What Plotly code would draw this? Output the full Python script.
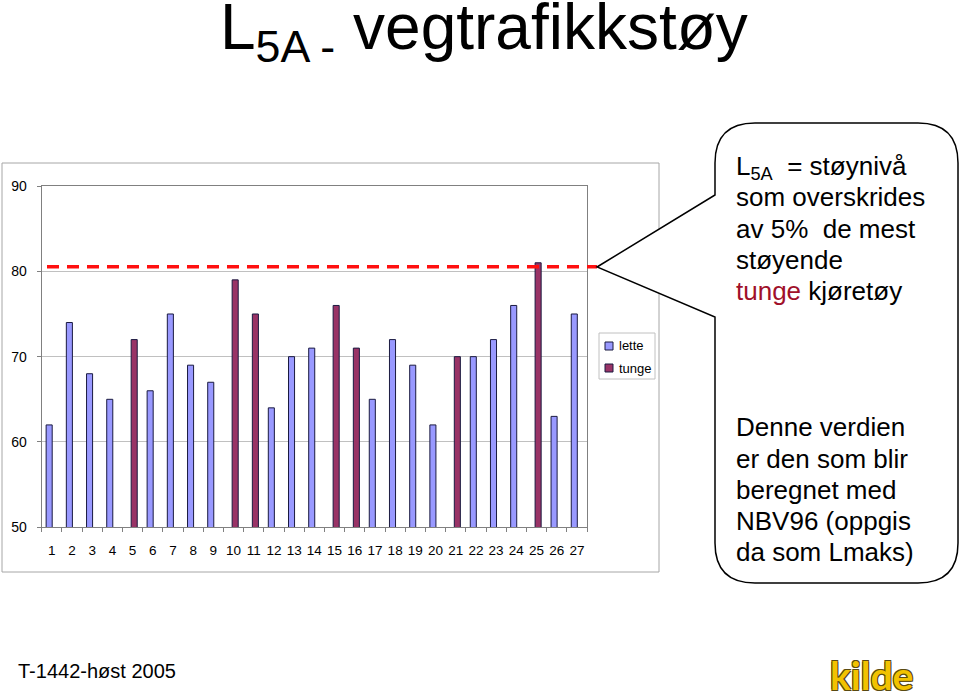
import plotly.graph_objects as go

# ---- data ----
categories = list(range(1, 28))
tick_labels = [str(c) for c in categories]
vehicle_type = ["lette", "lette", "lette", "lette", "tunge", "lette", "lette", "lette", "lette",
                "tunge", "tunge", "lette", "lette", "lette", "tunge", "tunge", "lette", "lette",
                "lette", "lette", "tunge", "lette", "lette", "lette", "tunge", "lette", "lette"]
noise_levels = [62, 74, 68, 65, 72, 66, 75, 69, 67,
                79, 75, 64, 70, 71, 76, 71, 65, 72,
                69, 62, 70, 70, 72, 76, 81, 63, 75]
series_names = ["lette", "tunge"]
series_colors = {"lette": "#9999FF", "tunge": "#993366"}
series_offsets = {"lette": -0.28, "tunge": -0.07}
threshold = 80.55
y_ticks = [50, 60, 70, 80, 90]
callout_lines_1 = ["L<sub>5A</sub>&nbsp;&nbsp;= støynivå", "som overskrides", "av 5%&nbsp;&nbsp;de mest",
                   "støyende", "<span style='color:#A0102A'>tunge</span> kjøretøy"]
callout_lines_2 = ["Denne verdien", "er den som blir", "beregnet med", "NBV96 (oppgis", "da som Lmaks)"]

W, H = 960, 697
def px(x):
    return x / W
def py(y):
    return 1 - y / H

FONT = "Liberation Sans, Arial, sans-serif"
ASC = 0.905  # font ascent ratio

def top_for_baseline(baseline, size):
    return baseline - ASC * size - 1

fig = go.Figure()
for name in series_names:
    xs = [c for c, t in zip(categories, vehicle_type) if t == name]
    ys = [v for v, t in zip(noise_levels, vehicle_type) if t == name]
    fig.add_trace(go.Bar(
        x=xs, y=ys, name=name,
        width=0.3, offset=series_offsets[name],
        marker=dict(color=series_colors[name], line=dict(color="#1a1a40", width=1)),
        showlegend=False,
    ))

fig.update_layout(
    template="none",
    width=W, height=H,
    margin=dict(l=0, r=0, t=0, b=0, autoexpand=False),
    paper_bgcolor="white", plot_bgcolor="white",
    barmode="overlay",
    showlegend=False,
    font=dict(family=FONT, color="black"),
    xaxis=dict(
        automargin=False,
        domain=[px(41.7), px(587)],
        range=[0.5, 27.5],
        tickvals=categories, ticktext=tick_labels,
        ticks="outside", ticklen=4, tickcolor="rgba(0,0,0,0)",
        ticklabelstandoff=6,
        tickfont=dict(size=13.5, family=FONT, color="black"),
        minor=dict(tickvals=[c + 0.5 for c in [0] + categories], ticks="outside",
                   ticklen=4, tickcolor="#808080"),
        showline=True, linecolor="#808080", linewidth=1, mirror=True,
        showgrid=False, zeroline=False, fixedrange=True,
    ),
    yaxis=dict(
        automargin=False,
        domain=[py(527.3), py(186)],
        range=[50, 90],
        tickvals=y_ticks,
        ticks="outside", ticklen=4, tickcolor="#808080",
        ticklabelstandoff=7,
        tickfont=dict(size=14, family=FONT, color="black"),
        showline=True, linecolor="#808080", linewidth=1, mirror=True,
        showgrid=True, gridcolor="#C0C0C0", gridwidth=1,
        zeroline=False, fixedrange=True,
    ),
)

shapes = []
shapes.append(dict(type="rect", xref="paper", yref="paper",
                   x0=px(2), x1=px(659), y0=py(572), y1=py(163),
                   line=dict(color="#A6A6A6", width=1), layer="below"))
shapes.append(dict(type="line", xref="paper", yref="y",
                   x0=px(47), x1=px(597), y0=threshold, y1=threshold,
                   line=dict(color="#FF1010", width=3.5, dash="12px,8px")))

L, R, T, B, RAD = 715, 958, 123, 583, 40
tip = (597, 267)
def P(x, y):
    return f"{px(x):.5f},{py(y):.5f}"
path = (f"M {P(*tip)} L {P(L, 195)} L {P(L, T + RAD)} Q {P(L, T)} {P(L + RAD, T)} "
        f"L {P(R - RAD, T)} Q {P(R, T)} {P(R, T + RAD)} L {P(R, B - RAD)} "
        f"Q {P(R, B)} {P(R - RAD, B)} L {P(L + RAD, B)} Q {P(L, B)} {P(L, B - RAD)} "
        f"L {P(L, 317)} Z")
shapes.append(dict(type="path", xref="paper", yref="paper", path=path,
                   fillcolor="white", line=dict(color="black", width=1.5), layer="above"))

shapes.append(dict(type="rect", xref="paper", yref="paper",
                   x0=px(599), x1=px(655), y0=py(379), y1=py(333),
                   line=dict(color="#C0C0C0", width=1), fillcolor="white"))
legend_y = {"lette": 346, "tunge": 368}
for name in series_names:
    yc = legend_y[name]
    shapes.append(dict(type="rect", xref="paper", yref="paper",
                       x0=px(605), x1=px(613), y0=py(yc + 4), y1=py(yc - 4),
                       line=dict(color="#1a1a40", width=1), fillcolor=series_colors[name]))
fig.update_layout(shapes=shapes)

ann = []
for name in series_names:
    ann.append(dict(xref="paper", yref="paper", x=px(617), y=py(legend_y[name]),
                    xanchor="left", yanchor="middle", showarrow=False, text=name,
                    font=dict(size=13, family=FONT, color="black")))

# title
ann.append(dict(xref="paper", yref="paper", x=px(218), y=py(top_for_baseline(48.3, 64)),
                xanchor="left", yanchor="top", showarrow=False,
                text="L<sub>5A -</sub> vegtrafikkstøy",
                font=dict(size=64, family=FONT, color="black")))
# callout texts, one annotation per line
for i, line in enumerate(callout_lines_1):
    ann.append(dict(xref="paper", yref="paper", x=px(734), y=py(top_for_baseline(173.3 + 31.4 * i, 26)),
                    xanchor="left", yanchor="top", showarrow=False, align="left", text=line,
                    font=dict(size=26, family=FONT, color="black")))
for i, line in enumerate(callout_lines_2):
    ann.append(dict(xref="paper", yref="paper", x=px(734), y=py(top_for_baseline(435 + 31.1 * i, 26)),
                    xanchor="left", yanchor="top", showarrow=False, align="left", text=line,
                    font=dict(size=26, family=FONT, color="black")))
# footer
ann.append(dict(xref="paper", yref="paper", x=px(16), y=py(top_for_baseline(676.7, 20)),
                xanchor="left", yanchor="top", showarrow=False, text="T-1442-høst 2005",
                font=dict(size=20, family=FONT, color="black")))
# logo
ann.append(dict(xref="paper", yref="paper", x=px(871), y=py(689 - 0.987 * 39 - 1),
                xanchor="center", yanchor="top", showarrow=False, text="<b>kilde</b>",
                font=dict(size=39, family="Lato, sans-serif", color="#F2C200",
                          shadow="-1px -1px 0 #5a4a10, 1px -1px 0 #5a4a10, -1px 1px 0 #5a4a10, 1px 1px 0 #5a4a10")))
fig.update_layout(annotations=ann)

post = (
    "var gd=document.getElementById('{plot_id}');"
    "gd.style.position='fixed';gd.style.top='0px';gd.style.left='0px';"
    "document.documentElement.style.overflow='hidden';"
    "document.body.style.margin='0';document.body.style.overflow='hidden';"
)
fig.write_html("out.html", config={"displayModeBar": False}, post_script=post)
